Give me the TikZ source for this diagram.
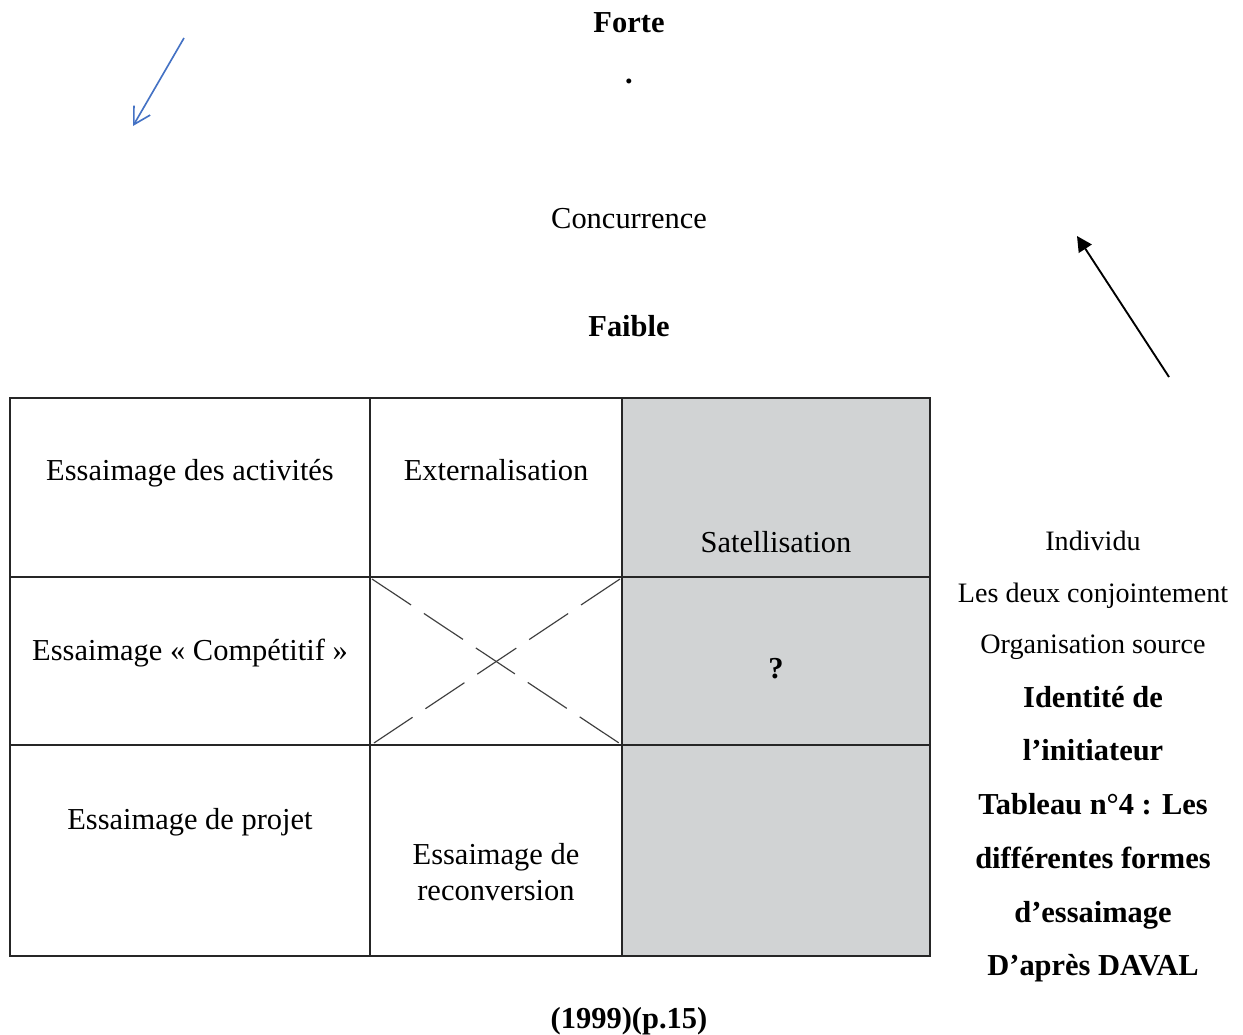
\documentclass[tikz,border=0pt]{standalone}
\usepackage{fontspec}
\setmainfont{Liberation Serif}
\usetikzlibrary{arrows.meta}
\definecolor{cellgray}{RGB}{209,211,212}
\definecolor{arrowblue}{RGB}{68,114,196}

\begin{document}
\begin{tikzpicture}[x=0.015cm, y=-0.015cm,
    txt/.style={anchor=base, inner sep=0pt, font=\fontsize{13}{15}\selectfont},
    btxt/.style={anchor=base, inner sep=0pt, font=\fontsize{13}{15}\selectfont\bfseries},
    side/.style={anchor=base, inner sep=0pt, font=\fontsize{12}{14}\selectfont},
    bside/.style={anchor=base, inner sep=0pt, font=\fontsize{13}{15}\selectfont\bfseries},
    grid/.style={line width=0.6pt, black!85}]
    \useasboundingbox (0,0) rectangle (1243,1035);
    % table corners
    \coordinate (TL) at (10,398);
    \coordinate (BR) at (930,956);
    \coordinate (XA) at (372,579);
    \coordinate (XB) at (619,743);
    \coordinate (XC) at (620,579);
    \coordinate (XD) at (374,743);
    \fill[cellgray] (622,398) rectangle (BR);
    \draw[grid] (TL) rectangle (BR);
    \draw[grid] (370,398) -- (370,956);
    \draw[grid] (622,398) -- (622,956);
    \draw[grid] (10,577) -- (930,577);
    \draw[grid] (10,745) -- (930,745);
    % \draw[grid] (622,577) -- (930,577);
    \draw[black!75, line width=0.5pt, dash pattern=on 20pt off 6.6pt] (XA) -- (XB);
    \draw[black!75, line width=0.5pt, dash pattern=on 20pt off 6.6pt] (XC) -- (XD);
    % axis labels
    \node[btxt] (forte) at (629,32) {Forte};
    \node[btxt] (dot) at (629,84) {.};
    \node[txt] (conc) at (629,228) {Concurrence};
    \node[btxt] (faible) at (629,336) {Faible};
    % cells
    \node[txt] (c11) at (190,480) {Essaimage des activités};
    \node[txt] (c12) at (496,480) {Externalisation};
    \node[txt] (c13) at (776,552) {Satellisation};
    \node[txt] (c21) at (190,660) {Essaimage « Compétitif »};
    \node[btxt] (c23) at (776,678) {?};
    \node[txt] (c31) at (190,829) {Essaimage de projet};
    \node[txt, anchor=center, align=center] (c32) at (496,872) {Essaimage de\\reconversion};
    % right column
    \node[side] (ind) at (1093,550) {Individu};
    \node[side] (deux) at (1093,602) {Les deux conjointement};
    \node[side] (org) at (1093,653) {Organisation source};
    \node[bside] (id1) at (1093,707) {Identité de};
    \node[bside] (id2) at (1093,760) {l’initiateur};
    \node[bside] (tab1) at (1093,814) {Tableau n°4 : Les};
    \node[bside] (tab2) at (1093,868) {différentes formes};
    \node[bside] (tab3) at (1093,922) {d’essaimage};
    \node[bside] (tab4) at (1093,975) {D’après DAVAL};
    \node[btxt] (src) at (629,1028) {(1999)(p.15)};
    % arrows
    \coordinate (B1) at (184,38);
    \coordinate (B2) at (133,126);
    \coordinate (K1) at (1169,377);
    \coordinate (K2) at (1077,236);
    \draw[arrowblue, line width=0.7pt, -{Straight Barb[length=7pt, width=8pt]}] (B1) -- (B2);
    \draw[line width=0.8pt, -{Triangle[length=6.5pt, width=6.5pt]}] (K1) -- (K2);
\end{tikzpicture}
\end{document}
